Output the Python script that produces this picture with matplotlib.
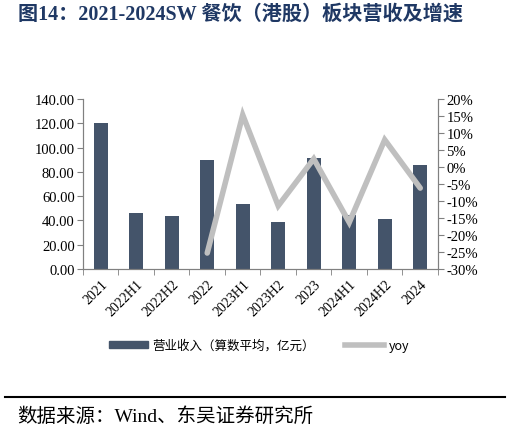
import matplotlib
matplotlib.use("Agg")
import numpy as np
from matplotlib import pyplot as plt
from matplotlib.lines import Line2D
from matplotlib.patches import Patch

periods = ["2021", "2022H1", "2022H2", "2022", "2023H1", "2023H2",
           "2023", "2024H1", "2024H2", "2024"]
revenue = [120.5, 46.5, 43.5, 89.5, 53.5, 38.5, 91.5, 44.5, 41.5, 86.0]
yoy_periods = ["2022", "2023H1", "2023H2", "2023", "2024H1", "2024H2", "2024"]
yoy = [-25.3, 15.3, -11.4, 2.4, -16.3, 8.0, -6.2]

serif = ["Liberation Serif", "Noto Sans CJK SC"]
cjk = ["Noto Sans CJK SC", "DejaVu Sans"]
bar_color = "#44546A"
line_color = "#BFBFBF"
spine_color = "#808080"

fig = plt.figure(figsize=(5.1, 4.31), dpi=100)
ax = fig.add_axes([0.1627, 0.3735, 0.6961, 0.3945])
ax2 = ax.twinx()

x = np.arange(len(periods))
ax.bar(x, revenue, width=0.4, color=bar_color, zorder=2)
idx = [periods.index(p) for p in yoy_periods]
ax2.plot(idx, yoy, color=line_color, lw=4, solid_capstyle="round",
         solid_joinstyle="miter", zorder=3)

ax.set_xlim(-0.5, len(periods) - 0.5)
ax.set_ylim(0, 140)
ax.set_yticks(np.arange(0, 141, 20))
ax.set_yticklabels([f"{v:.2f}" for v in np.arange(0, 141, 20)],
                   family=serif, fontsize=10.5)
ax2.set_ylim(-30, 20)
ax2.set_yticks(np.arange(-30, 21, 5))
ax2.set_yticklabels([f"{v}%" for v in range(-30, 21, 5)],
                    family=serif, fontsize=10.5)

ax.set_xticks(x)
ax.set_xticklabels(periods, rotation=45, ha="right", rotation_mode="anchor",
                   family=serif, fontsize=10)
ax.set_xticks(np.arange(-0.5, len(periods)), minor=True)
ax.tick_params(axis="x", which="major", length=0, pad=6)
ax.tick_params(axis="x", which="minor", length=4, color=spine_color,
               direction="out")
ax.tick_params(axis="y", length=4, color=spine_color, direction="out", pad=2)
ax2.tick_params(axis="y", length=4, color=spine_color, direction="out", pad=2)

for a in (ax, ax2):
    a.spines["top"].set_visible(False)
    for s in ("left", "right", "bottom"):
        a.spines[s].set_color(spine_color)
ax2.set_zorder(ax.get_zorder() + 1)
ax2.patch.set_visible(False)

handles = [Patch(color=bar_color), Line2D([0], [0], color=line_color, lw=4)]
labels = ["营业收入（算数平均，亿元）", "yoy"]
fig.legend(handles, labels, loc="center", bbox_to_anchor=(0.508, 0.196),
           ncol=2, frameon=False, prop={"family": cjk, "size": 9},
           handlelength=3.1, handleheight=0.5, columnspacing=2.4,
           handletextpad=0.4)

fig.text(0.035, 0.966, "图14：2021-2024SW 餐饮（港股）板块营收及增速",
         family=serif, fontsize=14.5, fontweight="bold", color="#1F3864",
         va="center", ha="left")

fig.add_artist(Line2D([0.01, 0.99], [0.077, 0.077], color="black", lw=1.5))
fig.text(0.033, 0.033, "数据来源：Wind、东吴证券研究所", family=serif,
         fontsize=14, va="center", ha="left")

fig.savefig("out.png", dpi=100)
